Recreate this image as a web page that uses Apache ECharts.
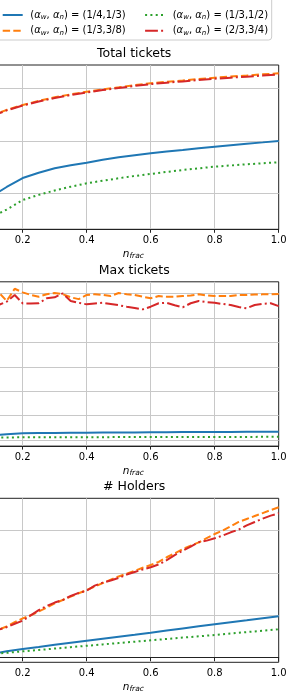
<!DOCTYPE html>
<html><head><meta charset="utf-8">
<script src="https://cdn.jsdelivr.net/npm/echarts@6/dist/echarts.min.js"></script>
<style>html,body{margin:0;padding:0;background:#fff}#c{width:290px;height:700px}</style>
</head><body><div id="c"></div><script>
// ---- data ----
const xCoarse = [0.1,0.15,0.2,0.25,0.3,0.35,0.4,0.45,0.5,0.55,0.6,0.65,0.7,0.75,0.8,0.85,0.9,0.95,1.0];
const xFine = [0.1,0.125,0.15,0.175,0.2,0.225,0.25,0.275,0.3,0.325,0.35,0.375,0.4,0.425,0.45,0.475,0.5,0.525,0.55,0.575,0.6,0.625,0.65,0.675,0.7,0.725,0.75,0.775,0.8,0.825,0.85,0.875,0.9,0.925,0.95,0.975,1.0];
const xTicks = [0.2,0.4,0.6,0.8,1.0];
const alphaLabels = ['(1/4,1/3)','(1/3,3/8)','(1/3,1/2)','(2/3,3/4)'];
const panelTitles = ['Total tickets','Max tickets','# Holders'];

// Total tickets
const totalBlue   = [930,1120,1291,1390,1476,1535,1583,1640,1686,1725,1762,1795,1825,1857,1888,1917,1945,1970,1996];
const totalOrange = [2470,2590,2682,2760,2829,2885,2935,2980,3019,3060,3096,3123,3149,3176,3202,3224,3244,3266,3286];
const totalGreen  = [540,690,872,970,1053,1125,1190,1240,1286,1330,1368,1407,1444,1476,1507,1530,1552,1572,1591];
const totalRed    = [2460,2580,2672,2748,2816,2872,2922,2966,3005,3045,3080,3106,3131,3157,3182,3203,3222,3242,3262];

// Max tickets
const maxBlue   = [23.5,24.8,25.5,25.7,25.8,25.9,26.0,26.1,26.2,26.2,26.3,26.4,26.5,26.5,26.6,26.6,26.7,26.7,26.8];
const maxGreen  = [22.0,22.1,22.2,22.2,22.3,22.3,22.3,22.3,22.4,22.4,22.4,22.4,22.5,22.5,22.5,22.5,22.5,22.6,22.6];
const maxOrange = [142,141,134,144,141,139,137.5,139.5,140.5,139.5,137,135.5,138.9,139.5,139,138,140.5,139.5,138.9,137.5,136.2,138,137.5,137.5,138,138.5,139.4,138.5,138,138,138,138.9,138.9,139.2,139.4,139.4,139.6];
const maxRed    = [131,130.7,133.4,138.9,132,132,132.1,136.2,137,140.2,134,132.5,131.2,132,132.5,131.5,130.5,129.3,128.3,127.1,129.3,132.1,132.5,130.5,128.8,132.1,134,133,132.5,131.5,130.7,129,128,130.7,131.7,132.1,129.8];

// # Holders
const holdBlue   = [45,75,103,127,152,176,200,224,248,271,295,320,345,370,394,418,441,465,488];
const holdGreen  = [45,58,75,91,108,124,141,157,173,189,205,221,237,252,268,285,302,318,335];
const holdOrange = [290,330,370,420,464,500,545,590,640,680,720,760,798,840,880,920,958,990,1025,1060,1093,1130,1184,1230,1280,1320,1360,1410,1458,1500,1550,1600,1635,1670,1705,1740,1773];
const holdRed    = [285,330,360,400,436,500,560,610,650,680,728,765,790,850,885,910,940,980,1010,1040,1066,1100,1150,1210,1260,1310,1360,1380,1408,1440,1478,1510,1560,1600,1640,1675,1702];

// ---- styling / layout ----
const colors = ['#1f77b4','#ff7f0e','#2ca02c','#d62728'];
const dashes = ['solid',[7.4,3.2],[2,3.3],[12.8,3.2,2,3.2]];
const names = alphaLabels.map(a => '(αw, αn) = ' + a);
const FONT = 'DejaVu Sans';

const panels = [
  {top:65,    height:164.3, ymin:314,  ymax:3444,  split:3, x:[xCoarse,xCoarse,xCoarse,xCoarse], y:[totalBlue,totalOrange,totalGreen,totalRed]},
  {top:281.8, height:164.3, ymin:15,   ymax:149.7, split:7, x:[xCoarse,xFine,xCoarse,xFine],     y:[maxBlue,maxOrange,maxGreen,maxRed]},
  {top:498.3, height:164,   ymin:-54,  ymax:1879,  split:4, x:[xCoarse,xFine,xCoarse,xFine],     y:[holdBlue,holdOrange,holdGreen,holdRed]}
];
const titleY = [54, 270.5, 487];
const xlabelOff = 25.2;
const plotCenter = 134.2;

const grid = [], xAxis = [], yAxis = [], series = [], graphic = [];
panels.forEach((p, i) => {
  grid.push({left:-41.3, right:11.3, top:p.top, height:p.height, show:true, borderColor:'#222', borderWidth:1,
             backgroundColor:'transparent', containLabel:false, outerBoundsMode:'none'});
  xAxis.push({type:'value', gridIndex:i, min:0, max:1, interval:0.2,
    axisLine:{show:true, lineStyle:{color:'#222', width:1}},
    axisTick:{show:true, inside:false, length:3.5, lineStyle:{color:'#222', width:1}},
    axisLabel:{show:true, fontSize:10, fontFamily:FONT, color:'#000', margin:6,
      formatter: v => (xTicks.some(t => Math.abs(t - v) < 1e-9) ? v.toFixed(1) : '')},
    splitLine:{show:true, showMinLine:false, showMaxLine:false, lineStyle:{color:'#c8c8c8', width:1}}
  });
  yAxis.push({type:'value', gridIndex:i, min:p.ymin, max:p.ymax, splitNumber:p.split,
    axisLine:{show:false}, axisTick:{show:false}, axisLabel:{show:false},
    splitLine:{show:true, showMinLine:false, showMaxLine:false, lineStyle:{color:'#c8c8c8', width:1}}
  });
  for (let k = 0; k < 4; k++) {
    series.push({type:'line', name:names[k], xAxisIndex:i, yAxisIndex:i,
      data: p.x[k].map((x, j) => [x, p.y[k][j]]),
      showSymbol:false, symbol:'none', clip:true, z:2+k,
      lineStyle:{color:colors[k], width:2, type:dashes[k], cap:'butt'},
      itemStyle:{color:colors[k]}, emphasis:{disabled:true}, animation:false});
  }
  graphic.push({type:'text', x:plotCenter, y:titleY[i], silent:true,
    style:{text:panelTitles[i], fontSize:12.5, fontFamily:FONT, fill:'#000', align:'center', verticalAlign:'middle'}});
  graphic.push({type:'text', x:133.3, y:p.top + p.height + xlabelOff, silent:true,
    style:{text:'{n|n}{s|frac}', align:'center', verticalAlign:'middle',
      rich:{n:{fontSize:10.5, fontStyle:'italic', fontFamily:FONT, fill:'#000', lineHeight:12},
            s:{fontSize:7.5, fontStyle:'italic', fontFamily:FONT, fill:'#000', lineHeight:6, verticalAlign:'bottom'}}}});
});

// legend frame
graphic.unshift({type:'rect', shape:{x:-20, y:-3, width:291.7, height:43, r:3}, silent:true, z:-1,
  style:{fill:'rgba(255,255,255,0.8)', stroke:'#cccccc', lineWidth:1}});

const legendRich = {
  i:{fontSize:10, fontStyle:'italic', fontFamily:FONT, color:'#000', lineHeight:12},
  s:{fontSize:7, fontStyle:'italic', fontFamily:FONT, color:'#000', lineHeight:6, verticalAlign:'bottom'}
};
const legendPos = [[1.7,9],[1.7,24.7],[144.1,9],[144.1,24.7]];
const legend = names.map((n, k) => ({
  data:[n], left:legendPos[k][0], top:legendPos[k][1], padding:0, itemWidth:20, itemHeight:10,
  itemGap:0, selectedMode:false,
  itemStyle:{opacity:0, borderWidth:0},
  lineStyle:{color:colors[k], width:2, type:dashes[k], cap:'butt'},
  textStyle:{fontSize:10, fontFamily:FONT, color:'#000', padding:[0,0,0,2.6], rich:legendRich, lineHeight:12},
  formatter: () => '({i|α}{s|w}, {i|α}{s|n}) = ' + alphaLabels[k]
}));

const chart = echarts.init(document.getElementById('c'), null, {renderer:'canvas'});
chart.setOption({animation:false, backgroundColor:'#fff', grid, xAxis, yAxis, series, legend, graphic});
</script></body></html>
